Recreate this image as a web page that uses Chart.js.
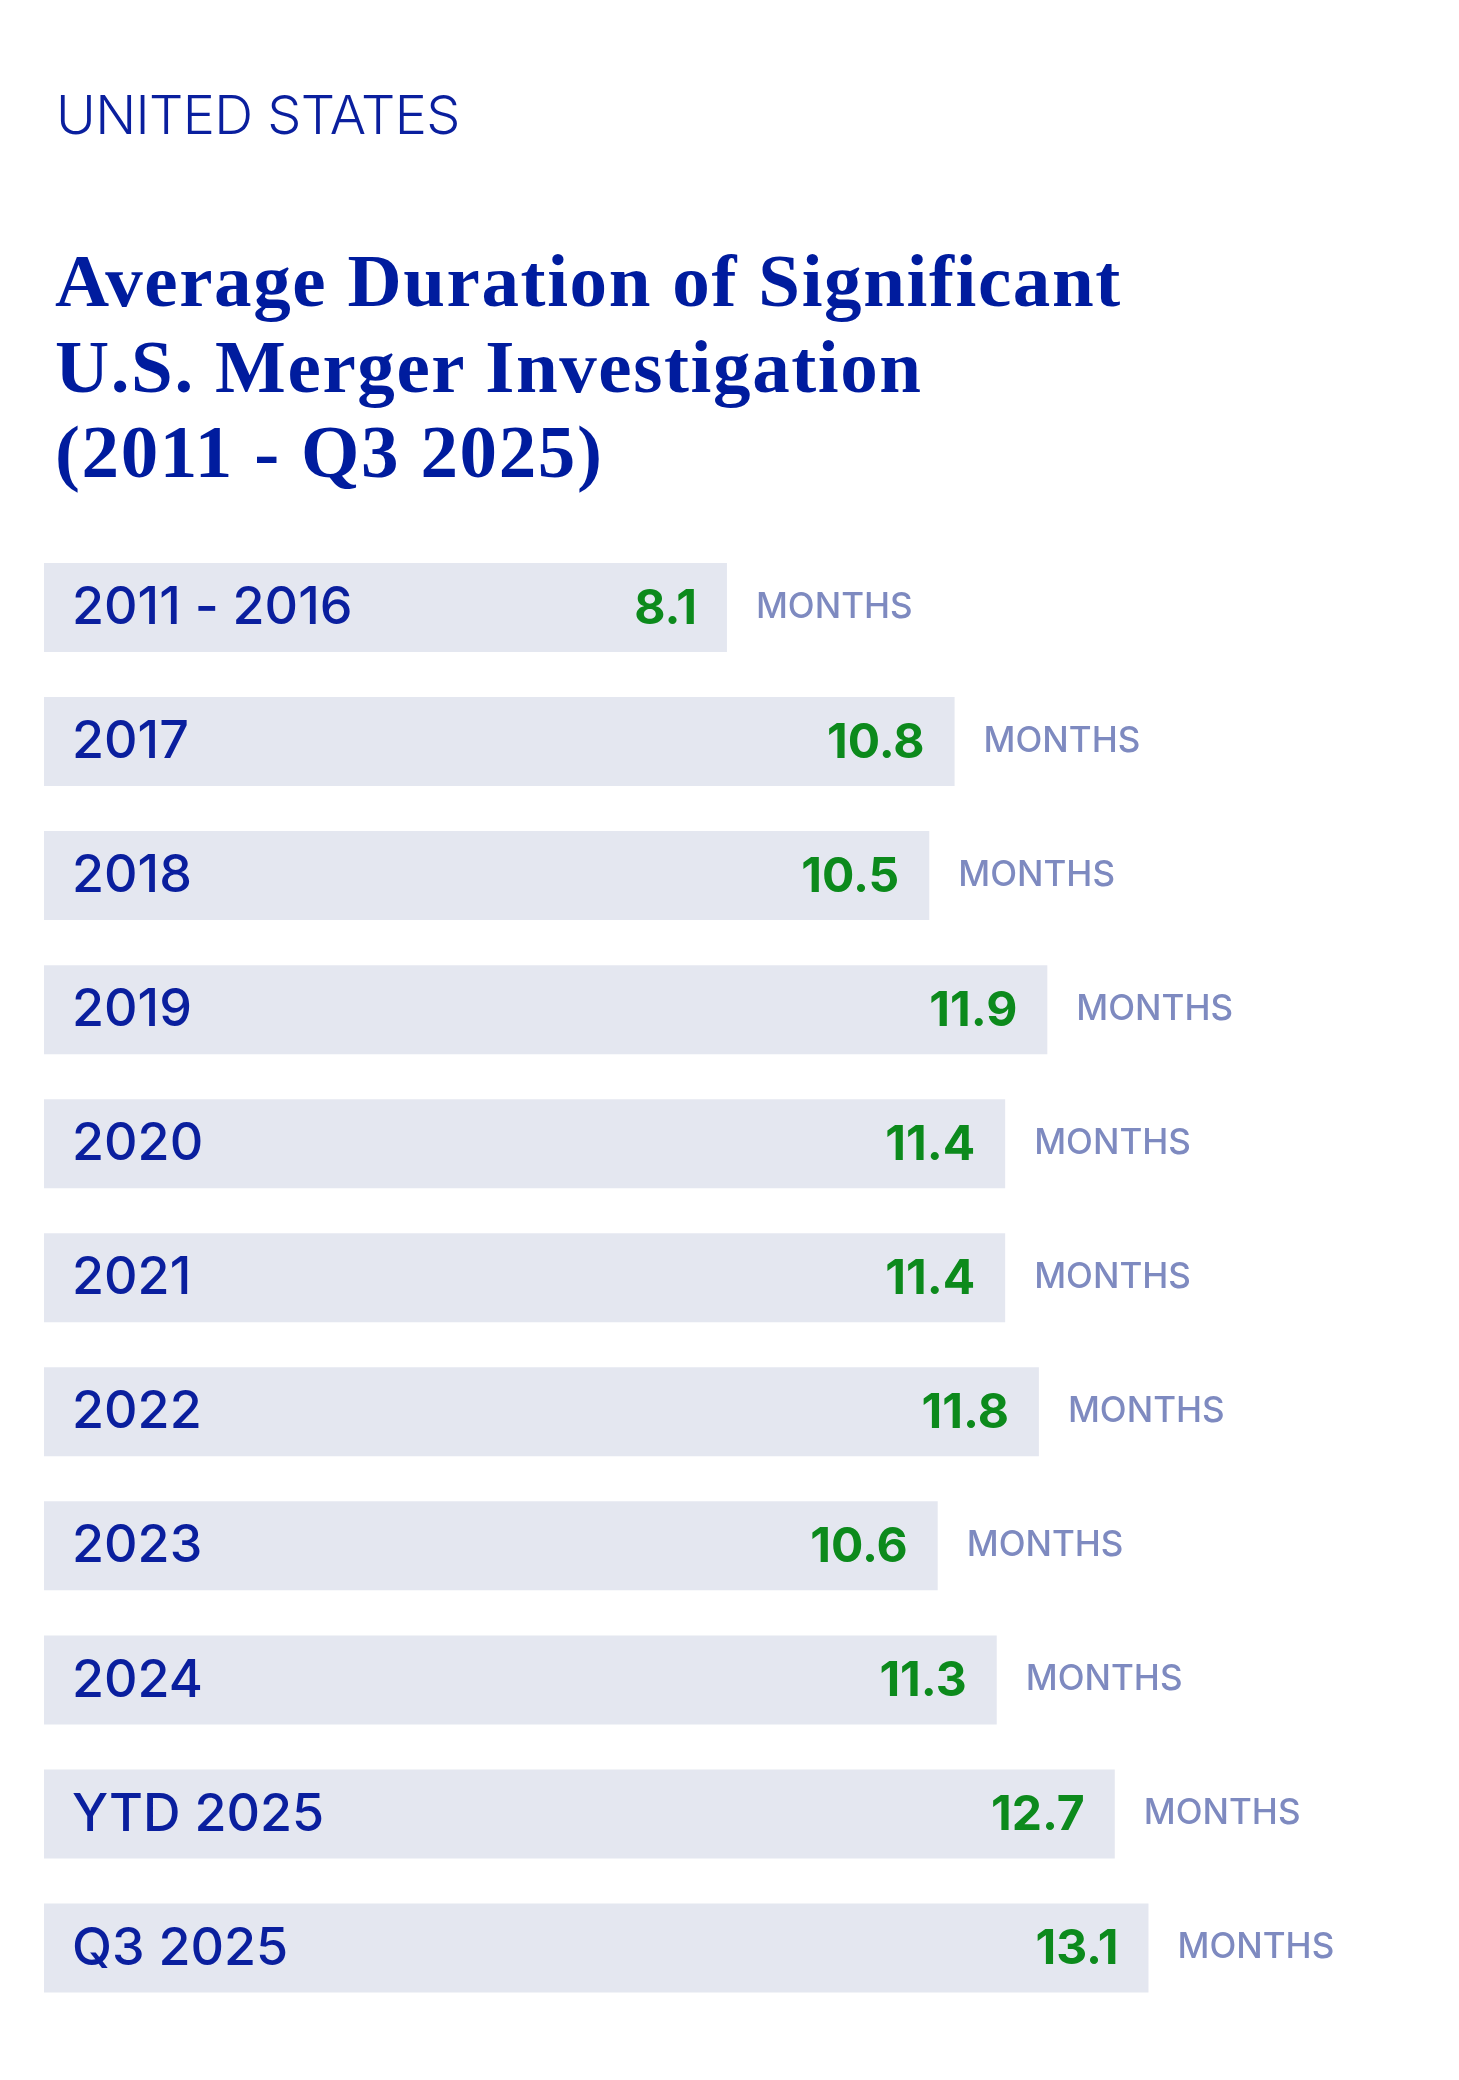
<!DOCTYPE html>
<html>
<head>
<meta charset="utf-8">
<script src="https://cdn.jsdelivr.net/npm/chart.js@4.4.1/dist/chart.umd.min.js"></script>
<style>
  html, body { margin: 0; padding: 0; background: #fff; }
  #wrap { position: relative; width: 1459px; height: 2080px; }
  #kicker {
    position: absolute; left: 56px; top: 88px; margin: 0;
    font: 300 54px/54px Inter, sans-serif; color: #0a1f9e; letter-spacing: -0.6px;
  }
  #title {
    position: absolute; left: 55px; top: 238px; margin: 0;
    font: 700 75px/85.5px "Liberation Serif", serif; color: #001c9e; letter-spacing: 1.6px;
  }
  #chart { position: absolute; left: 0; top: 0; }
</style>
</head>
<body>
<div id="wrap">
  <div id="kicker">UNITED STATES</div>
  <h1 id="title">Average Duration of Significant<br>U.S. Merger Investigation<br>(2011 - Q3 2025)</h1>
  <canvas id="chart" width="1459" height="2080"></canvas>
</div>
<script>
const periods = ["2011 - 2016", "2017", "2018", "2019", "2020", "2021", "2022", "2023", "2024", "YTD 2025", "Q3 2025"]
const months = [8.1, 10.8, 10.5, 11.9, 11.4, 11.4, 11.8, 10.6, 11.3, 12.7, 13.1]
const unitLabel = "MONTHS"

// labels inside and beside each bar
const barText = {
  id: "barText",
  afterDatasetsDraw(chart) {
    const ctx = chart.ctx
    const meta = chart.getDatasetMeta(0)
    ctx.save()
    ctx.textBaseline = "middle"
    meta.data.forEach((bar, i) => {
      const y = bar.y + 1
      ctx.fillStyle = "#0a1f9e"
      ctx.textAlign = "left"
      ctx.font = "500 52px Inter"
      ctx.fillText(periods[i], chart.chartArea.left + 28, y)

      ctx.fillStyle = "#0c8a1c"
      ctx.textAlign = "right"
      ctx.font = "700 48px Inter"
      ctx.fillText(months[i].toFixed(1), bar.x - 30, y + 1)

      ctx.fillStyle = "#7e8ac0"
      ctx.textAlign = "left"
      ctx.font = "500 35px Inter"
      ctx.fillText(unitLabel, bar.x + 29, y - 1)
    })
    ctx.restore()
  },
}

new Chart(document.getElementById("chart"), {
  type: "bar",
  data: {
    labels: periods,
    datasets: [
      {
        data: months,
        backgroundColor: "#e4e7f0",
        borderWidth: 0,
        barPercentage: 0.664,
        categoryPercentage: 1,
      },
    ],
  },
  options: {
    indexAxis: "y",
    responsive: false,
    animation: false,
    layout: { padding: { left: 44, right: 66, top: 540.5, bottom: 65 } },
    scales: {
      x: { display: false, min: 0, max: 16 },
      y: { display: false },
    },
    plugins: {
      legend: { display: false },
      tooltip: { enabled: false },
    },
  },
  plugins: [barText],
})
</script>
</body>
</html>
